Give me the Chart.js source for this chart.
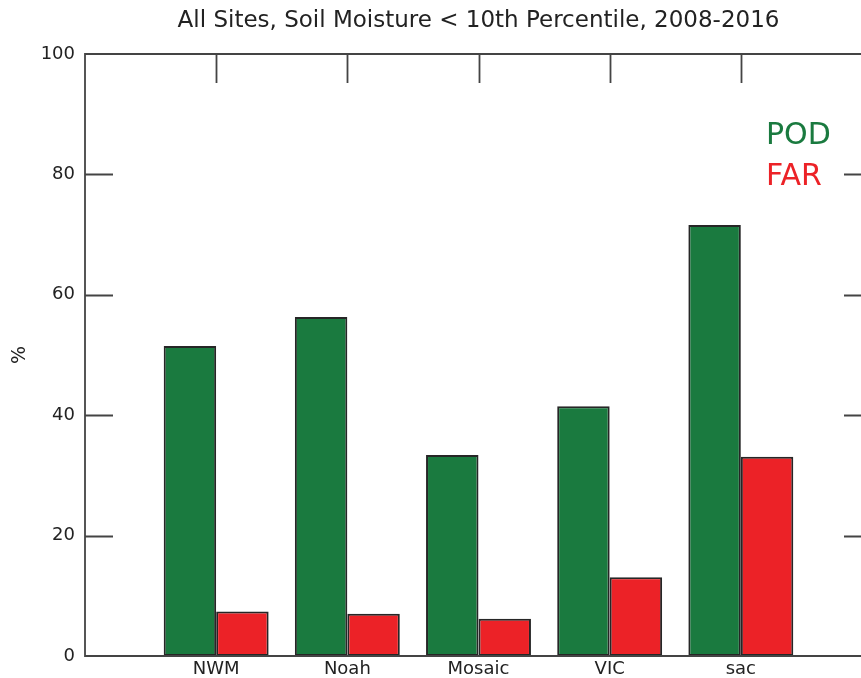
<!DOCTYPE html>
<html>
<head>
<meta charset="utf-8">
<script src="https://cdn.jsdelivr.net/npm/chart.js@4/dist/chart.umd.min.js"></script>
<style>
  html, body { margin: 0; padding: 0; background: #fff; overflow: hidden; }
  #wrap { width: 880px; height: 678px; }
</style>
</head>
<body>
<div id="wrap"><canvas id="skillChart"></canvas></div>
<script>
// Detection skill per land surface model, soil moisture below 10th percentile
const models = ['NWM', 'Noah', 'Mosaic', 'VIC', 'sac'];
const podValues = [51.5, 56.3, 33.4, 41.5, 71.6];
const farValues = [7.4, 7.0, 6.2, 13.1, 33.1];
const yTicks = [0, 20, 40, 60, 80, 100];

const POD_COLOR = '#1a7a3f';
const FAR_COLOR = '#ec2227';
const FRAME_COLOR = '#444';

// Empty slots at both ends so the models sit one category in from each edge
const labels = [''].concat(models, ['']);
const pad = arr => [null].concat(arr, [null]);

/**
 * Draws the axis frame, inward tick marks and the coloured legend text
 */
const framePlugin = {
  id: 'frame',
  afterDatasetsDraw(chart) {
    const { ctx, chartArea: a, scales } = chart;
    ctx.save();
    ctx.strokeStyle = FRAME_COLOR;
    ctx.lineWidth = 1.8;

    ctx.beginPath();
    ctx.moveTo(a.left, a.top);
    ctx.lineTo(a.right, a.top);
    ctx.lineTo(a.right, a.bottom);
    ctx.lineTo(a.left, a.bottom);
    ctx.closePath();
    ctx.stroke();

    // y ticks point inward from both sides
    ctx.beginPath();
    yTicks.slice(1, -1).forEach(v => {
      const y = Math.round(scales.y.getPixelForValue(v)) + 0.5;
      ctx.moveTo(a.left, y);
      ctx.lineTo(a.left + 28, y);
      ctx.moveTo(a.right - 28, y);
      ctx.lineTo(a.right, y);
    });
    // category ticks hang from the top edge
    models.forEach((m, i) => {
      const x = Math.round(scales.x.getPixelForValue(i + 1)) + 0.5;
      ctx.moveTo(x, a.top);
      ctx.lineTo(x, a.top + 29);
    });
    ctx.stroke();

    ctx.font = '30px "DejaVu Sans"';
    ctx.textAlign = 'left';
    ctx.textBaseline = 'alphabetic';
    ctx.fillStyle = POD_COLOR;
    ctx.fillText('POD', 766, 144);
    ctx.fillStyle = FAR_COLOR;
    ctx.fillText('FAR', 766, 185);
    ctx.restore();
  }
};

const ctx = document.getElementById('skillChart').getContext('2d');

new Chart(ctx, {
  type: 'bar',
  data: {
    labels: labels,
    datasets: [
      {
        label: 'POD',
        data: pad(podValues),
        backgroundColor: POD_COLOR,
        borderColor: '#262626',
        borderWidth: 2,
        borderSkipped: false
      },
      {
        label: 'FAR',
        data: pad(farValues),
        backgroundColor: FAR_COLOR,
        borderColor: '#262626',
        borderWidth: 2,
        borderSkipped: false
      }
    ]
  },
  options: {
    responsive: true,
    maintainAspectRatio: false,
    animation: false,
    layout: {
      padding: { left: 0, right: 8, top: 0, bottom: 0 }
    },
    datasets: {
      bar: {
        categoryPercentage: 0.8,
        barPercentage: 1.0
      }
    },
    plugins: {
      legend: { display: false },
      tooltip: { enabled: false },
      title: {
        display: true,
        fullSize: false,
        text: 'All Sites, Soil Moisture < 10th Percentile, 2008-2016',
        color: '#222',
        font: { family: 'DejaVu Sans', size: 23, weight: 'normal', lineHeight: 1.2 },
        padding: { top: 7, bottom: 19.4 }
      }
    },
    scales: {
      x: {
        offset: false,
        grid: { display: false, drawTicks: false },
        border: { display: false },
        ticks: {
          autoSkip: false,
          maxRotation: 0,
          padding: 3,
          color: '#222',
          font: { family: 'DejaVu Sans', size: 18 }
        },
        afterFit(scale) {
          scale.height = 22;
        }
      },
      y: {
        min: 0,
        max: 100,
        grid: { display: false, drawTicks: false },
        border: { display: false },
        ticks: {
          stepSize: 20,
          padding: 10,
          color: '#222',
          font: { family: 'DejaVu Sans', size: 18 }
        },
        title: {
          display: true,
          text: '%',
          color: '#222',
          font: { family: 'DejaVu Sans', size: 19 },
          padding: { top: 9, bottom: 0 }
        },
        afterFit(scale) {
          scale.width = 85;
        }
      }
    }
  },
  plugins: [framePlugin]
});
</script>
</body>
</html>
